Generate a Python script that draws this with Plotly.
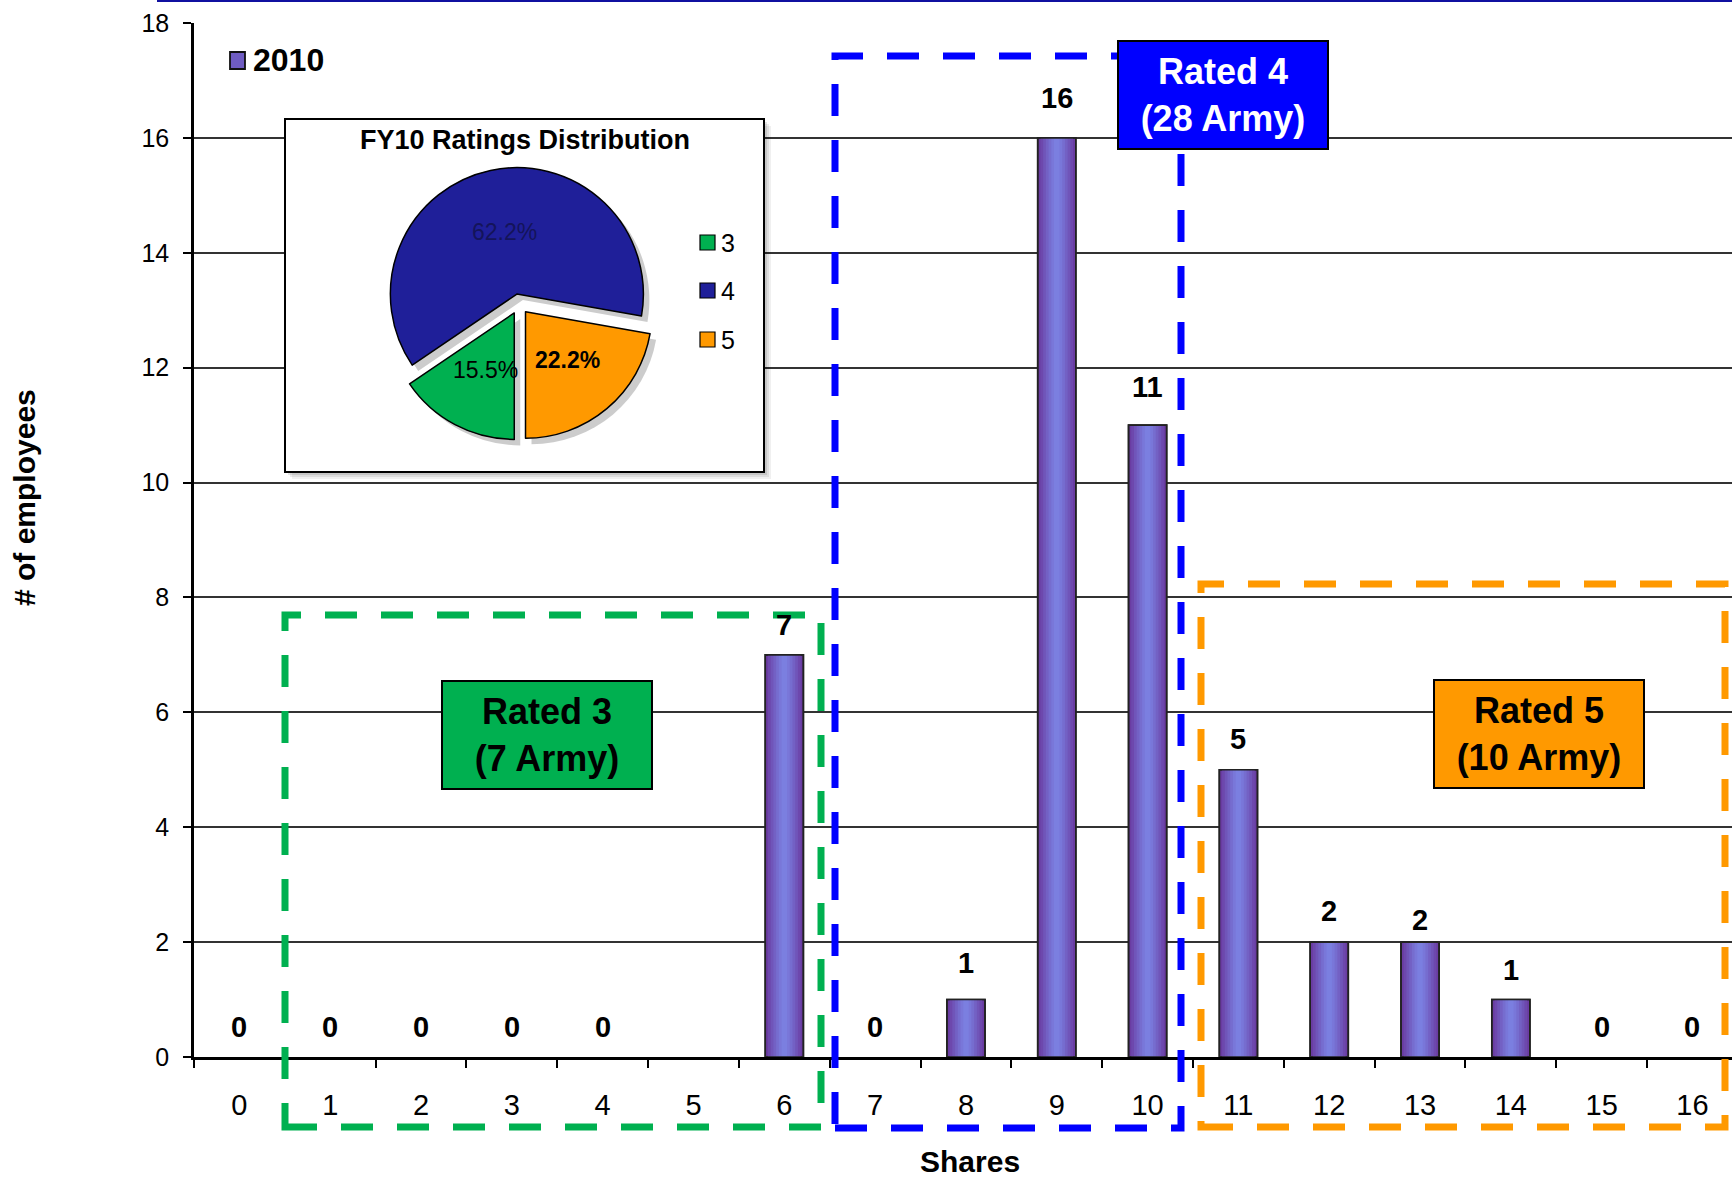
import plotly.graph_objects as go

# ---------------- data ----------------
shares = ["0", "1", "2", "3", "4", "5", "6", "7", "8", "9",
          "10", "11", "12", "13", "14", "15", "16"]
employees_2010 = [0, 0, 0, 0, 0, None, 7, 0, 1, 16, 11, 5, 2, 2, 1, 0, 0]
series_name = "2010"

rating_labels = ["3", "4", "5"]
rating_share_pct = [15.5, 62.2, 22.2]

group_titles = ["Rated 3<br>(7 Army)", "Rated 4<br>(28 Army)", "Rated 5<br>(10 Army)"]

# ---------------- geometry / style ----------------
W, H = 1732, 1178
ML, MR, MT, MB = 194, 0, 23, 121
X_RANGE = [-0.5, 16.435]
Y_RANGE = [0, 18]
FONT = "Liberation Sans, Arial, sans-serif"


def px(x):
    """page pixel x -> paper fraction"""
    return (x - ML) / (W - ML - MR)


def py(y):
    """page pixel y (from top) -> paper fraction"""
    return (H - MB - y) / (H - MT - MB)


def dx(x):
    """page pixel x -> x-axis value"""
    return X_RANGE[0] + px(x) * (X_RANGE[1] - X_RANGE[0])


def dy(y):
    """page pixel y -> y-axis value"""
    return Y_RANGE[0] + py(y) * (Y_RANGE[1] - Y_RANGE[0])


# bars are built from several overlaid layers to get a soft horizontal shading
bar_layers = [
    (0.42, "#6A3CA2"), (0.36, "#6D48AD"), (0.30, "#7055B9"), (0.24, "#7361C4"),
    (0.18, "#766DCF"), (0.12, "#7977D9"), (0.06, "#7B7FE0"),
]
label_lift = [30, 30, 30, 30, 30, 0, 30, 30, 37, 40, 38, 31, 31, 22, 30, 30, 30]
outline_w = [1.6 if v else 0 for v in employees_2010]

fig = go.Figure()

for i, (w, c) in enumerate(bar_layers):
    fig.add_trace(go.Bar(
        x=shares, y=employees_2010, width=w, name=series_name,
        marker=dict(color=c, line=dict(width=outline_w if i == 0 else 0, color="#222222")),
        showlegend=False, hoverinfo="x+y",
    ))
# crisp outline on top of the shading
fig.add_trace(go.Bar(
    x=shares, y=employees_2010, width=bar_layers[0][0], showlegend=False,
    marker=dict(color="rgba(0,0,0,0)", line=dict(width=outline_w, color="#222222")),
    hoverinfo="skip",
))

# value labels above each bar
annotations = []
for cat, v, lift in zip(shares, employees_2010, label_lift):
    if v is None:
        continue
    annotations.append(dict(
        x=cat, y=v, xref="x", yref="y", text=str(v), showarrow=False,
        yshift=lift, xanchor="center", yanchor="middle",
        font=dict(family=FONT, size=29, color="black", weight="bold"),
    ))

shapes = []

# series key in the top-left corner
shapes.append(dict(
    type="rect", xref="paper", yref="paper", layer="above",
    x0=px(230), x1=px(245), y0=py(69), y1=py(52),
    fillcolor="#6F5CC2", line=dict(color="#111111", width=1.8),
))
annotations.append(dict(
    x=px(251), y=py(60), xref="paper", yref="paper", showarrow=False,
    text=series_name, xanchor="left", yanchor="middle",
    font=dict(family=FONT, size=32, color="black", weight="bold"),
))

# ---------------- inset pie ----------------
pie_cx, pie_cy, pie_r, pull = 519, 304, 126.5, 0.08
half = pie_r * (1 + pull)
pie_colors = ["#00B050", "#1F1F99", "#FF9900"]

# soft drop shadow under the pie
sh = 6
fig.add_trace(go.Pie(
    labels=rating_labels, values=rating_share_pct, sort=False,
    direction="clockwise", rotation=180, pull=pull,
    marker=dict(colors=["rgba(0,0,0,0.20)"] * 3, line=dict(width=0)),
    textinfo="none", showlegend=False, hoverinfo="skip",
    domain=dict(x=[px(pie_cx - half + sh), px(pie_cx + half + sh)],
                y=[py(pie_cy + half + sh), py(pie_cy - half + sh)]),
))
fig.add_trace(go.Pie(
    labels=rating_labels, values=rating_share_pct, sort=False,
    direction="clockwise", rotation=180, pull=pull,
    marker=dict(colors=pie_colors, line=dict(color="black", width=1.5)),
    textinfo="none", showlegend=False,
    domain=dict(x=[px(pie_cx - half), px(pie_cx + half)],
                y=[py(pie_cy + half), py(pie_cy - half)]),
))

# slice percentages
slice_label_pos = [(485, 370), (504, 232), (567, 360)]
slice_label_style = [("black", "normal"), ("#14145A", "normal"), ("black", "bold")]
for pct, (lx, ly), (tc, tw) in zip(rating_share_pct, slice_label_pos, slice_label_style):
    annotations.append(dict(
        x=px(lx), y=py(ly), xref="paper", yref="paper", showarrow=False,
        text=f"{pct:.1f}%", xanchor="center", yanchor="middle",
        font=dict(family=FONT, size=23, color=tc, weight=tw),
    ))

# inset frame with a faint shadow, above the gridlines but under the traces
box = (285, 119, 764, 472)
for off, alpha in [(7, 0.06), (5, 0.08), (3, 0.10)]:
    shapes.append(dict(
        type="rect", xref="x", yref="y", layer="between",
        x0=dx(box[0] + off), x1=dx(box[2] + off), y0=dy(box[3] + off), y1=dy(box[1] + off),
        line=dict(width=0), fillcolor=f"rgba(0,0,0,{alpha})",
    ))
shapes.append(dict(
    type="rect", xref="x", yref="y", layer="between",
    x0=dx(box[0]), x1=dx(box[2]), y0=dy(box[3]), y1=dy(box[1]),
    line=dict(color="black", width=2), fillcolor="white",
))

annotations.append(dict(
    x=px(525), y=py(140), xref="paper", yref="paper", showarrow=False,
    text="FY10 Ratings Distribution", xanchor="center", yanchor="middle",
    font=dict(family=FONT, size=27, color="black", weight="bold"),
))

# pie legend
for lab, col, yc in zip(rating_labels, pie_colors, [242.5, 290.5, 339.5]):
    shapes.append(dict(
        type="rect", xref="paper", yref="paper", layer="above",
        x0=px(700), x1=px(715), y0=py(yc + 7.5), y1=py(yc - 7.5),
        fillcolor=col, line=dict(color="black", width=1.2),
    ))
    annotations.append(dict(
        x=px(719), y=py(yc), xref="paper", yref="paper", showarrow=False,
        text=lab, xanchor="left", yanchor="middle",
        font=dict(family=FONT, size=25, color="black"),
    ))

# ---------------- rating groups ----------------
dash = "32px,24px"
groups = [
    ((285, 615, 821, 1127), "#00B050", (547, 734.5), "black"),
    ((835, 56, 1181, 1128), "#0000FF", (1223, 94.5), "white"),
    ((1201, 584, 1725, 1127), "#FF9900", (1539, 734), "black"),
]
for (x0, y0, x1, y1), col, _, _ in groups:
    shapes.append(dict(
        type="rect", xref="paper", yref="paper", layer="above",
        x0=px(x0), x1=px(x1), y0=py(y1), y1=py(y0),
        line=dict(color=col, width=7, dash=dash), fillcolor="rgba(0,0,0,0)",
    ))
for title, (_, col, (cx, cy), tcol) in zip(group_titles, groups):
    annotations.append(dict(
        x=px(cx), y=py(cy), xref="paper", yref="paper", showarrow=False,
        text=title, xanchor="center", yanchor="middle", align="center",
        width=208, height=106, bgcolor=col, bordercolor="black",
        borderwidth=2, borderpad=0,
        font=dict(family=FONT, size=36, color=tcol, weight="bold"),
    ))

# thin rule along the top of the page
shapes.append(dict(
    type="line", xref="paper", yref="paper", layer="above",
    x0=px(157), x1=px(1732), y0=py(1), y1=py(1),
    line=dict(color="#1010A0", width=2),
))

# axis titles
annotations.append(dict(
    x=px(24), y=py(498), xref="paper", yref="paper", showarrow=False,
    text="# of employees", textangle=-90, xanchor="center", yanchor="middle",
    font=dict(family=FONT, size=30, color="black", weight="bold"),
))
annotations.append(dict(
    x=px(970), y=py(1161), xref="paper", yref="paper", showarrow=False,
    text="Shares", xanchor="center", yanchor="middle", height=32,
    font=dict(family=FONT, size=30, color="black", weight="bold"),
))

fig.update_layout(
    width=W, height=H, autosize=False,
    margin=dict(l=ML, r=MR, t=MT, b=MB, pad=0),
    paper_bgcolor="white", plot_bgcolor="white",
    barmode="overlay", showlegend=False,
    font=dict(family=FONT, color="black"),
    shapes=shapes, annotations=annotations,
    xaxis=dict(
        type="category", categoryorder="array", categoryarray=shares,
        range=X_RANGE, tickson="boundaries",
        ticks="outside", ticklen=8, tickwidth=1.5, tickcolor="black",
        showline=True, linecolor="black", linewidth=2.5,
        showgrid=False, zeroline=False, ticklabelstandoff=20,
        tickfont=dict(family=FONT, size=29, color="black"),
    ),
    yaxis=dict(
        range=Y_RANGE, tick0=0, dtick=2,
        ticks="outside", ticklen=8, tickwidth=1.5, tickcolor="black",
        showline=True, linecolor="black", linewidth=2.5,
        showgrid=True, gridcolor="#333333", gridwidth=2, zeroline=False,
        ticklabelstandoff=9,
        tickfont=dict(family=FONT, size=25, color="black"),
    ),
)

fig.write_html("out.html")
